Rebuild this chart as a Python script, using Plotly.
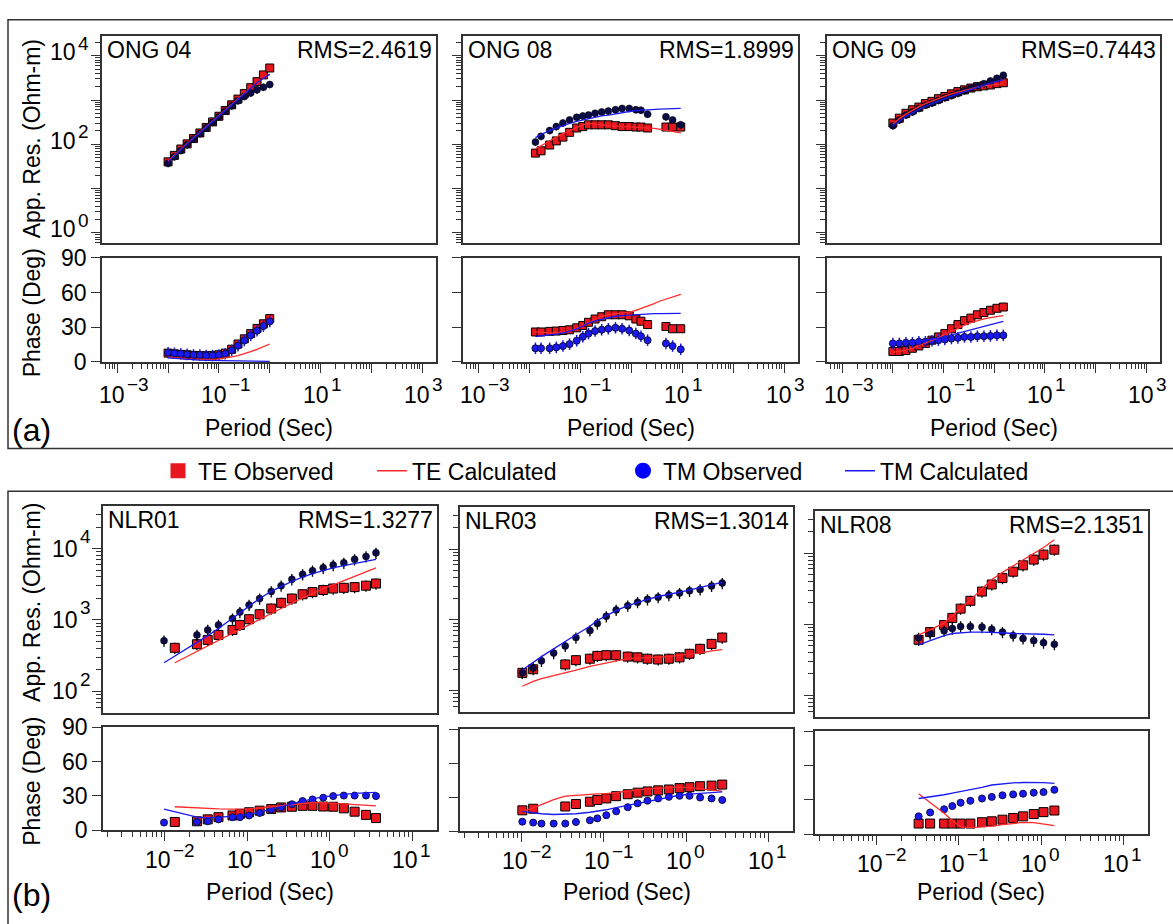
import math
import plotly.graph_objects as go

# ---------------- DATA ----------------
# ONG 04
ong04_T = [0.01, 0.0133, 0.0178, 0.0237, 0.0316, 0.0422, 0.0562, 0.075, 0.1, 0.133, 0.178, 0.237, 0.316, 0.422, 0.562, 0.75, 1.0]
ong04_te_rho = [40, 56, 78, 102, 135, 180, 240, 320, 430, 580, 780, 1050, 1400, 1900, 2600, 3700, 5300]
ong04_tm_rho = [37, 52, 72, 98, 132, 175, 235, 315, 420, 560, 740, 960, 1200, 1450, 1700, 1950, 2250]
ong04_te_rho_calc = [42, 57, 78, 104, 140, 186, 250, 335, 450, 600, 800, 1070, 1420, 1900, 2500, 3150, 3800]
ong04_tm_rho_calc = [40, 55, 76, 102, 137, 183, 245, 330, 440, 590, 790, 1050, 1400, 1850, 2450, 3100, 3800]
ong04_te_phi = [7.6, 7.0, 6.5, 6.2, 5.6, 5.4, 5.4, 5.6, 6.2, 7.6, 11.0, 15.5, 20.0, 24.5, 29.0, 33.0, 37.5]
ong04_tm_phi = [8.0, 7.5, 7.0, 6.5, 6.0, 6.0, 5.5, 5.5, 6.0, 7.0, 10.0, 14.0, 18.5, 23.0, 27.0, 31.0, 35.0]
ong04_te_phi_calc = [4.2, 3.5, 3.0, 2.5, 2.2, 2.0, 2.0, 2.2, 2.6, 3.3, 4.3, 5.5, 7.0, 8.8, 10.8, 13.0, 15.5]
ong04_tm_phi_calc = [3.5, 3.0, 2.5, 2.0, 1.8, 1.5, 1.3, 1.2, 1.1, 1.0, 1.0, 0.9, 0.8, 0.7, 0.6, 0.5, 0.5]

# ONG 08
ong08_T = [0.0132, 0.0170, 0.0251, 0.0339, 0.0457, 0.0617, 0.0851, 0.112, 0.145, 0.195, 0.263, 0.355, 0.490, 0.661, 0.912, 1.23, 1.55, 2.09, 4.79, 6.46, 9.33]
ong08_T_calc = [0.0132, 0.0170, 0.0251, 0.0339, 0.0457, 0.0617, 0.0851, 0.112, 0.145, 0.195, 0.263, 0.355, 0.490, 0.661, 0.912, 1.23, 1.55, 2.09, 2.82, 3.55, 4.79, 6.46, 9.33]
ong08_te_rho = [63, 71, 96, 119, 145, 186, 233, 251, 275, 275, 275, 275, 263, 251, 251, 245, 245, 233, 245, 245, 245]
ong08_tm_rho = [112, 151, 204, 251, 302, 355, 407, 436, 457, 501, 537, 562, 603, 646, 646, 603, 589, 479, 417, 355, 275]
ong08_te_rho_calc = [78, 93, 120, 145, 174, 200, 240, 275, 295, 288, 275, 263, 257, 251, 251, 245, 240, 234, 229, 219, 209, 195, 182]
ong08_tm_rho_calc = [141, 166, 204, 234, 263, 295, 331, 355, 380, 407, 436, 457, 490, 525, 550, 575, 589, 603, 617, 624, 631, 638, 646]
ong08_te_phi = [25.9, 25.9, 26.4, 26.7, 27.2, 27.8, 29.5, 31.5, 34.3, 37.1, 39.1, 40.8, 40.8, 40.8, 39.9, 37.1, 35.2, 32.3, 30.6, 28.7, 28.7]
ong08_tm_phi = [11.8, 11.8, 11.8, 12.6, 13.7, 15.4, 18.3, 21.7, 24.5, 26.7, 27.8, 28.7, 29.5, 28.7, 27.2, 24.5, 22.2, 18.8, 16.0, 13.7, 10.9]
ong08_te_phi_calc = [26, 25.5, 25, 25, 25.5, 27, 29, 31.5, 34, 37, 39.5, 41, 41.5, 42, 43, 44.5, 46, 48, 50.5, 52.5, 54.5, 56.5, 58.5]
ong08_tm_phi_calc = [22, 22.5, 23, 24, 25, 26.5, 28.5, 31, 33.5, 35.5, 37, 38.5, 39.5, 40, 40.5, 41, 41.2, 41.5, 41.7, 41.8, 42, 42, 42]

# ONG 09
ong09_T = [0.0100, 0.0134, 0.0181, 0.0243, 0.0326, 0.0438, 0.0589, 0.0791, 0.106, 0.143, 0.192, 0.258, 0.346, 0.465, 0.625, 0.839, 1.13, 1.51]
ong09_te_rho = [302, 389, 501, 603, 692, 832, 933, 1072, 1202, 1380, 1549, 1698, 1862, 1995, 2089, 2188, 2344, 2455]
ong09_tm_rho = [263, 355, 457, 537, 646, 759, 851, 977, 1122, 1259, 1413, 1622, 1862, 2089, 2344, 2692, 3090, 3631]
ong09_te_rho_calc = [288, 380, 479, 589, 708, 832, 955, 1096, 1230, 1380, 1514, 1660, 1820, 1950, 2089, 2188, 2291, 2344]
ong09_tm_rho_calc = [263, 339, 427, 513, 617, 724, 832, 955, 1096, 1230, 1380, 1549, 1738, 1950, 2138, 2399, 2630, 2884]
ong09_te_phi = [9.0, 9.0, 9.8, 11.8, 13.8, 16.0, 18.8, 21.6, 24.5, 28.7, 32.3, 35.7, 37.9, 40.8, 42.7, 44.7, 46.4, 47.5]
ong09_tm_phi = [16.0, 16.0, 16.6, 16.6, 17.4, 17.4, 18.3, 18.8, 19.4, 20.2, 20.8, 21.6, 21.6, 22.2, 22.2, 22.5, 23.0, 23.0]
ong09_te_phi_calc = [8.2, 9.0, 10.2, 11.8, 13.8, 16.0, 18.5, 21.0, 23.8, 26.5, 29.2, 31.8, 34.0, 35.8, 37.2, 38.4, 39.3, 40.0]
ong09_tm_phi_calc = [17.4, 17.4, 17.6, 17.8, 18.2, 18.8, 19.6, 20.6, 21.8, 23.2, 24.7, 26.2, 27.8, 29.3, 30.8, 32.3, 33.7, 35.1]

# NLR01
nlr01_T_tm = [0.00977, 0.0245, 0.0331, 0.0447, 0.0661, 0.0813, 0.105, 0.141, 0.195, 0.257, 0.347, 0.468, 0.617, 0.832, 1.10, 1.48, 2.00, 2.75, 3.63]
nlr01_T_te = [0.0132, 0.0245, 0.0331, 0.0447, 0.0661, 0.0813, 0.105, 0.141, 0.195, 0.257, 0.347, 0.468, 0.617, 0.832, 1.10, 1.48, 2.00, 2.75, 3.63]
nlr01_tm_rho = [513, 617, 724, 851, 1047, 1288, 1622, 1995, 2512, 3020, 3715, 4365, 4898, 5370, 5888, 6310, 7079, 7762, 8710]
nlr01_te_rho = [407, 457, 525, 617, 724, 851, 1023, 1202, 1445, 1738, 1995, 2291, 2455, 2630, 2754, 2818, 2884, 3020, 3236]
nlr01_tm_rho_calc = [251, 479, 603, 759, 1047, 1259, 1549, 1995, 2512, 2951, 3467, 3981, 4467, 4898, 5370, 5754, 6166, 6607, 7079]
nlr01_te_rho_calc = [251, 363, 437, 525, 661, 741, 851, 1023, 1230, 1445, 1738, 2042, 2344, 2754, 3090, 3548, 4074, 4677, 5370]
nlr01_tm_phi = [6.8, 7.3, 7.9, 9.6, 11.5, 11.5, 13.0, 15.2, 18.0, 20.0, 22.8, 25.6, 27.0, 28.5, 29.9, 30.4, 30.4, 30.4, 29.9]
nlr01_te_phi = [7.3, 7.9, 9.6, 11.5, 13.0, 14.4, 15.8, 17.2, 18.6, 20.0, 20.6, 21.4, 21.4, 20.8, 20.6, 19.2, 16.3, 13.5, 10.7]
nlr01_tm_phi_calc = [18.6, 11.5, 11.0, 11.3, 12.5, 13.0, 14.0, 16.0, 18.5, 21.0, 23.5, 25.6, 27.5, 29.2, 30.4, 31.5, 32.3, 32.9, 33.2]
nlr01_te_phi_calc = [20.6, 19.5, 19.0, 18.8, 18.6, 18.6, 18.8, 19.5, 20.6, 21.7, 22.8, 23.8, 24.3, 24.2, 23.7, 23.0, 22.3, 21.8, 21.4]

# NLR03
nlr03_T_tm = [0.0102, 0.0138, 0.0174, 0.0245, 0.0339, 0.0457, 0.0676, 0.0832, 0.107, 0.141, 0.195, 0.257, 0.339, 0.457, 0.617, 0.832, 1.10, 1.48, 2.04, 2.75]
nlr03_T_te = [0.0102, 0.0138, 0.0339, 0.0457, 0.0676, 0.0832, 0.107, 0.141, 0.195, 0.257, 0.339, 0.457, 0.617, 0.832, 1.10, 1.48, 2.04, 2.75]
nlr03_tm_rho = [178, 209, 263, 339, 427, 562, 708, 891, 1122, 1380, 1585, 1778, 1950, 2089, 2239, 2399, 2570, 2692, 3020, 3311]
nlr03_te_rho = [178, 200, 234, 269, 282, 309, 316, 316, 302, 295, 282, 275, 282, 295, 331, 389, 457, 562]
nlr03_tm_rho_calc = [195, 251, 302, 389, 501, 617, 813, 977, 1148, 1349, 1585, 1778, 1950, 2138, 2291, 2455, 2630, 2884, 3162, 3388]
nlr03_te_rho_calc = [115, 135, 148, 162, 178, 195, 219, 229, 245, 263, 282, 288, 292, 295, 302, 316, 324, 339, 363, 380]
nlr03_tm_phi = [8.5, 7.7, 6.8, 6.8, 6.8, 8.2, 9.7, 11.4, 14.2, 17.6, 21.3, 24.7, 27.0, 29.0, 30.4, 31.3, 31.3, 29.8, 29.0, 27.6]
nlr03_te_phi = [18.5, 19.9, 21.9, 24.1, 26.1, 27.6, 29.0, 31.0, 32.7, 34.1, 35.2, 36.1, 36.9, 38.1, 38.9, 39.8, 40.3, 41.2]
nlr03_te_phi_calc = [17.6, 20.5, 23.5, 28.0, 31.0, 31.8, 32.5, 33.0, 33.3, 34.3, 35.5, 36.6, 37.5, 38.0, 38.5, 38.9, 38.5, 37.5, 36.5, 35.5]
nlr03_tm_phi_calc = [17.6, 16.3, 15.5, 14.8, 15.0, 15.5, 16.8, 17.6, 19.0, 20.8, 22.8, 24.7, 26.5, 28.5, 30.3, 31.8, 32.8, 33.6, 34.2, 34.7]

# NLR08
nlr08_T = [0.0324, 0.0447, 0.0661, 0.0832, 0.105, 0.138, 0.191, 0.251, 0.339, 0.457, 0.603, 0.813, 1.07, 1.45]
nlr08_te_rho = [603, 776, 977, 1230, 1660, 2138, 2884, 3631, 4467, 5495, 6761, 8128, 9550, 11220]
nlr08_tm_rho = [646, 741, 813, 871, 933, 933, 912, 851, 776, 692, 631, 589, 550, 525]
nlr08_te_rho_calc = [708, 832, 1047, 1318, 1660, 2188, 3162, 4266, 5370, 6607, 7943, 9772, 12023, 15488]
nlr08_tm_rho_calc = [513, 589, 692, 741, 759, 776, 776, 776, 759, 741, 741, 724, 724, 708]
nlr08_tm_phi = [15.6, 19.0, 21.8, 24.6, 27.5, 29.2, 31.2, 32.6, 34.0, 34.8, 35.4, 36.3, 36.8, 38.8]
nlr08_te_phi = [9.3, 9.3, 9.3, 9.3, 9.3, 9.3, 10.5, 11.3, 12.7, 14.2, 15.6, 17.6, 19.3, 20.7]
nlr08_te_phi_calc = [35.4, 28.0, 18.4, 12.0, 6.5, 5.7, 6.2, 7.1, 8.3, 9.5, 10.3, 10.2, 9.0, 7.6]
nlr08_tm_phi_calc = [31.2, 32.5, 34.5, 36.0, 37.3, 39.0, 41.0, 43.0, 44.0, 44.8, 45.2, 45.3, 45.0, 44.5]

site_names = ["ONG 04", "ONG 08", "ONG 09", "NLR01", "NLR03", "NLR08"]
rms_labels = ["RMS=2.4619", "RMS=1.8999", "RMS=0.7443", "RMS=1.3277", "RMS=1.3014", "RMS=2.1351"]

# tick label exponents (None = tick without label)
x_exp = {"a": [-3, None, -1, None, 1, None, 3], "b": [-2, -1, 0, 1]}
y_exp = {"a": [0, None, 2, None, 4], "b": [2, 3, 4]}

# ---------------- STYLE / LAYOUT ----------------
W, H = 1173, 924
FONT = "Liberation Sans, Arial, Helvetica, sans-serif"
RED = "#e8161e"
LRED = "#ff2a2a"
BLUE = "#1a1af0"
NAVY = "#0b0b45"
FRAME = "#333333"


def fx(p):
    return p / W


def fy(p):
    return 1 - p / H


def exp_text(e):
    return ("\u2212" if e < 0 else "") + str(abs(e))


sites = [
    dict(T_te=ong04_T, T_tm=ong04_T, T_te_c=ong04_T, T_tm_c=ong04_T,
         te_rho=ong04_te_rho, tm_rho=ong04_tm_rho, te_rho_c=ong04_te_rho_calc, tm_rho_c=ong04_tm_rho_calc,
         te_phi=ong04_te_phi, tm_phi=ong04_tm_phi, te_phi_c=ong04_te_phi_calc, tm_phi_c=ong04_tm_phi_calc),
    dict(T_te=ong08_T, T_tm=ong08_T, T_te_c=ong08_T_calc, T_tm_c=ong08_T_calc,
         te_rho=ong08_te_rho, tm_rho=ong08_tm_rho, te_rho_c=ong08_te_rho_calc, tm_rho_c=ong08_tm_rho_calc,
         te_phi=ong08_te_phi, tm_phi=ong08_tm_phi, te_phi_c=ong08_te_phi_calc, tm_phi_c=ong08_tm_phi_calc),
    dict(T_te=ong09_T, T_tm=ong09_T, T_te_c=ong09_T, T_tm_c=ong09_T,
         te_rho=ong09_te_rho, tm_rho=ong09_tm_rho, te_rho_c=ong09_te_rho_calc, tm_rho_c=ong09_tm_rho_calc,
         te_phi=ong09_te_phi, tm_phi=ong09_tm_phi, te_phi_c=ong09_te_phi_calc, tm_phi_c=ong09_tm_phi_calc),
    dict(T_te=nlr01_T_te, T_tm=nlr01_T_tm, T_te_c=nlr01_T_te, T_tm_c=nlr01_T_tm,
         te_rho=nlr01_te_rho, tm_rho=nlr01_tm_rho, te_rho_c=nlr01_te_rho_calc, tm_rho_c=nlr01_tm_rho_calc,
         te_phi=nlr01_te_phi, tm_phi=nlr01_tm_phi, te_phi_c=nlr01_te_phi_calc, tm_phi_c=nlr01_tm_phi_calc),
    dict(T_te=nlr03_T_te, T_tm=nlr03_T_tm, T_te_c=nlr03_T_tm, T_tm_c=nlr03_T_tm,
         te_rho=nlr03_te_rho, tm_rho=nlr03_tm_rho, te_rho_c=nlr03_te_rho_calc, tm_rho_c=nlr03_tm_rho_calc,
         te_phi=nlr03_te_phi, tm_phi=nlr03_tm_phi, te_phi_c=nlr03_te_phi_calc, tm_phi_c=nlr03_tm_phi_calc),
    dict(T_te=nlr08_T, T_tm=nlr08_T, T_te_c=nlr08_T, T_tm_c=nlr08_T,
         te_rho=nlr08_te_rho, tm_rho=nlr08_tm_rho, te_rho_c=nlr08_te_rho_calc, tm_rho_c=nlr08_tm_rho_calc,
         te_phi=nlr08_te_phi, tm_phi=nlr08_tm_phi, te_phi_c=nlr08_te_phi_calc, tm_phi_c=nlr08_tm_phi_calc),
]

# panel boxes in pixels: x0, x1, res_top, res_bottom, phase_top, phase_bottom, group
geom = [
    (102, 436, 24, 237, 252, 359, "a"),
    (463, 798, 24, 237, 252, 359, "a"),
    (827, 1160, 24, 237, 252, 359, "a"),
    (103, 437, 507, 720, 735, 841, "b"),
    (460, 793, 508, 719, 737, 842, "b"),
    (815, 1148, 512, 724, 739, 845, "b"),
]

XR = {"a": [-3.3, 3.27], "b": [-2.75, 1.3]}
YR = {"a": [-0.24, 4.44], "b": [1.7, 4.6]}
XLO = {"a": -3, "b": -2}
YLO = {"a": 0, "b": 2}
ALL_LOG_TICKS = [k * 10.0 ** e for e in range(-5, 6) for k in range(1, 10)]
TXT = dict(family=FONT, size=23, color="black")
TICKTXT = dict(family=FONT, size=23, color="black")
EXPTXT = dict(family=FONT, size=19, color="black")

# label offsets (pixels) for the two groups
XLAB = {"a": dict(dy=34, base_dx=-5, exp_dx=8, exp_dy=10),
        "b": dict(dy=31, base_dx=-7, exp_dx=6, exp_dy=10)}
YLAB = {"a": dict(base_r=78, exp_r=91, base_dy=3.5, exp_dy=9),
        "b": dict(base_r=80, exp_r=93, base_dy=0, exp_dy=12)}

fig = go.Figure()
layout = {}
annotations = []

for i, (s, g) in enumerate(zip(sites, geom)):
    x0, x1, rt, rb, pt, pb, grp = g
    first = i % 3 == 0
    nr = 2 * i + 1
    npz = 2 * i + 2
    nmx = 13 + 2 * i      # overlay axis carrying the long decade ticks (phase x)
    nmy = 14 + 2 * i      # overlay axis carrying the long decade ticks (resistivity y)
    xr_id = "x" if nr == 1 else f"x{nr}"
    yr_id = "y" if nr == 1 else f"y{nr}"
    xp_id = f"x{npz}"
    yp_id = f"y{npz}"
    msq = 8 if grp == "a" else 9
    mci = 7

    # ---- resistivity ----
    fig.add_trace(go.Scatter(x=s["T_te"], y=s["te_rho"], mode="markers", xaxis=xr_id, yaxis=yr_id,
                             marker=dict(symbol="square", size=msq, color=RED, line=dict(color="black", width=1)),
                             error_y=dict(type="percent", value=18, color="black", thickness=1.3, width=0),
                             showlegend=False))
    fig.add_trace(go.Scatter(x=s["T_tm"], y=s["tm_rho"], mode="markers", xaxis=xr_id, yaxis=yr_id,
                             marker=dict(symbol="circle", size=mci, color=NAVY, line=dict(color="black", width=0.5)),
                             error_y=dict(type="percent", value=18, color="black", thickness=1.3, width=0),
                             showlegend=False))
    fig.add_trace(go.Scatter(x=s["T_te_c"], y=s["te_rho_c"], mode="lines", xaxis=xr_id, yaxis=yr_id,
                             line=dict(color=LRED, width=1.3), showlegend=False))
    fig.add_trace(go.Scatter(x=s["T_tm_c"], y=s["tm_rho_c"], mode="lines", xaxis=xr_id, yaxis=yr_id,
                             line=dict(color=BLUE, width=1.3), showlegend=False))

    # ---- phase ----
    fig.add_trace(go.Scatter(x=s["T_te"], y=s["te_phi"], mode="markers", xaxis=xp_id, yaxis=yp_id,
                             marker=dict(symbol="square", size=msq, color=RED, line=dict(color="black", width=1)),
                             error_y=dict(type="constant", value=3, color="black", thickness=1.3, width=0),
                             showlegend=False))
    fig.add_trace(go.Scatter(x=s["T_tm"], y=s["tm_phi"], mode="markers", xaxis=xp_id, yaxis=yp_id,
                             marker=dict(symbol="circle", size=mci, color=BLUE, line=dict(color=NAVY, width=1)),
                             error_y=dict(type="constant", value=5 if grp == "a" else 2.5,
                                          color=BLUE if grp == "a" else NAVY, thickness=1.5, width=0),
                             showlegend=False))
    fig.add_trace(go.Scatter(x=s["T_te_c"], y=s["te_phi_c"], mode="lines", xaxis=xp_id, yaxis=yp_id,
                             line=dict(color=LRED, width=1.3), showlegend=False))
    fig.add_trace(go.Scatter(x=s["T_tm_c"], y=s["tm_phi_c"], mode="lines", xaxis=xp_id, yaxis=yp_id,
                             line=dict(color=BLUE, width=1.3), showlegend=False))

    # traces on the overlay axes (one hidden point each) so those axes are drawn
    fig.add_trace(go.Scatter(x=[s["T_te"][0]], y=[s["te_phi"][0]], xaxis=f"x{nmx}", yaxis=yp_id,
                             mode="markers", marker=dict(size=1, opacity=0), showlegend=False, hoverinfo="skip"))
    fig.add_trace(go.Scatter(x=[s["T_te"][0]], y=[s["te_rho"][0]], xaxis=xr_id, yaxis=f"y{nmy}",
                             mode="markers", marker=dict(size=1, opacity=0), showlegend=False, hoverinfo="skip"))

    dom_x = [fx(x0), fx(x1)]
    xdec = [10.0 ** (XLO[grp] + k) for k in range(len(x_exp[grp]))]
    ydec = [10.0 ** (YLO[grp] + k) for k in range(len(y_exp[grp]))]
    kx = "xaxis" if nr == 1 else f"xaxis{nr}"
    ky = "yaxis" if nr == 1 else f"yaxis{nr}"
    box = dict(showline=True, mirror=True, linecolor=FRAME, linewidth=1.5, showgrid=False, zeroline=False)
    layout[kx] = dict(domain=dom_x, anchor=yr_id, type="log", range=XR[grp], showticklabels=False,
                      ticks="", **box)
    # short ticks at every 1..9 x decade
    layout[ky] = dict(domain=[fy(rb), fy(rt)], anchor=xr_id, type="log", range=YR[grp],
                      tickmode="array", tickvals=ALL_LOG_TICKS, showticklabels=False,
                      ticks="outside", ticklen=5, tickwidth=1, tickcolor=FRAME, **box)
    # long ticks at decades
    layout[f"yaxis{nmy}"] = dict(domain=[fy(rb), fy(rt)], anchor=xr_id, overlaying=yr_id, side="left",
                                 type="log", range=YR[grp], tickmode="array", tickvals=ydec,
                                 showticklabels=False, ticks="outside", ticklen=10, tickwidth=1.3,
                                 tickcolor=FRAME, showline=False, showgrid=False, zeroline=False)
    layout[f"xaxis{npz}"] = dict(domain=dom_x, anchor=yp_id, type="log", range=XR[grp],
                                 tickmode="array", tickvals=ALL_LOG_TICKS, showticklabels=False,
                                 ticks="outside", ticklen=5, tickwidth=1, tickcolor=FRAME, **box)
    layout[f"xaxis{nmx}"] = dict(domain=dom_x, anchor=yp_id, overlaying=xp_id, side="bottom",
                                 type="log", range=XR[grp], tickmode="array", tickvals=xdec,
                                 showticklabels=False, ticks="outside", ticklen=10, tickwidth=1.3,
                                 tickcolor=FRAME, showline=False, showgrid=False, zeroline=False)
    layout[f"yaxis{npz}"] = dict(domain=[fy(pb), fy(pt)], anchor=xp_id, range=[0, 90],
                                 tickmode="array", tickvals=[0, 30, 60, 90],
                                 ticktext=["0", "30", "60", "90"], showticklabels=first,
                                 ticks="outside", ticklen=9, tickwidth=1.2, tickcolor=FRAME,
                                 tickfont=TICKTXT, **box)

    # x tick labels: "10" plus a raised exponent, both placed on the axis scale
    xl = XLAB[grp]
    for v, e in zip(xdec, x_exp[grp]):
        if e is None:
            continue
        lv = math.log10(v)
        annotations.append(dict(text="10", x=lv, y=fy(pb + xl["dy"]), xref=xp_id, yref="paper",
                                xanchor="center", yanchor="middle", xshift=xl["base_dx"],
                                showarrow=False, font=TICKTXT))
        annotations.append(dict(text=exp_text(e), x=lv, y=fy(pb + xl["dy"]), xref=xp_id, yref="paper",
                                xanchor="left", yanchor="middle", xshift=xl["exp_dx"], yshift=xl["exp_dy"],
                                showarrow=False, font=EXPTXT))
    # y tick labels on the resistivity axis (first column only)
    if first:
        yl = YLAB[grp]
        for v, e in zip(ydec, y_exp[grp]):
            if e is None:
                continue
            lv = math.log10(v)
            annotations.append(dict(text="10", x=fx(yl["base_r"]), y=lv, xref="paper", yref=yr_id,
                                    xanchor="right", yanchor="middle", yshift=yl["base_dy"],
                                    showarrow=False, font=TICKTXT))
            annotations.append(dict(text=exp_text(e), x=fx(yl["exp_r"]), y=lv, xref="paper", yref=yr_id,
                                    xanchor="right", yanchor="middle", yshift=yl["base_dy"] + yl["exp_dy"],
                                    showarrow=False, font=EXPTXT))

    off = 14 if grp == "a" else 15
    annotations.append(dict(text=site_names[i], x=fx(x0 + 3), y=fy(rt + off), xref="paper", yref="paper",
                            xanchor="left", yanchor="middle", showarrow=False, font=TXT))
    annotations.append(dict(text=rms_labels[i], x=fx(x1 - 2), y=fy(rt + off), xref="paper", yref="paper",
                            xanchor="right", yanchor="middle", showarrow=False, font=TXT))
    annotations.append(dict(text="Period (Sec)", x=fx((x0 + x1) / 2), y=fy(427 if grp == "a" else 904),
                            xref="paper", yref="paper", xanchor="center", yanchor="middle", showarrow=False,
                            font=TXT))

# y-axis titles and group labels
for txt, yc in [("App. Res. (Ohm-m)", 130), ("Phase (Deg)", 309), ("App. Res. (Ohm-m)", 607), ("Phase (Deg)", 791)]:
    annotations.append(dict(text=txt, x=fx(32), y=fy(yc), xref="paper", yref="paper", textangle=-90,
                            xanchor="center", yanchor="middle", showarrow=False, font=TXT))
for txt, yc in [("(a)", 429), ("(b)", 908)]:
    annotations.append(dict(text=txt, x=fx(31), y=fy(yc), xref="paper", yref="paper",
                            xanchor="center", yanchor="middle", showarrow=False,
                            font=dict(family=FONT, size=32, color="black")))

# group frames
shapes = [
    dict(type="rect", xref="paper", yref="paper", x0=fx(8), x1=fx(1200), y0=fy(7), y1=fy(448),
         line=dict(color=FRAME, width=1.5), fillcolor="rgba(0,0,0,0)", layer="below"),
    dict(type="rect", xref="paper", yref="paper", x0=fx(8), x1=fx(1200), y0=fy(492), y1=fy(960),
         line=dict(color=FRAME, width=1.5), fillcolor="rgba(0,0,0,0)", layer="below"),
]

# legend entries (each in its own legend box so they can be placed like the figure)
leg_items = [
    ("TE Observed", dict(mode="markers", marker=dict(symbol="square", size=15, color=RED)), 158, "legend"),
    ("TE Calculated", dict(mode="lines", line=dict(color=LRED, width=1.5)), 372, "legend2"),
    ("TM Observed", dict(mode="markers", marker=dict(symbol="circle", size=16, color="#0000ff")), 623, "legend3"),
    ("TM Calculated", dict(mode="lines", line=dict(color=BLUE, width=1.5)), 840, "legend4"),
]
for name, style, xpx, lg in leg_items:
    fig.add_trace(go.Scatter(x=[None], y=[None], name=name, showlegend=True, legend=lg,
                             xaxis="x", yaxis="y", **style))
    layout[lg] = dict(x=fx(xpx), y=fy(471), xanchor="left", yanchor="middle", orientation="h",
                      bgcolor="rgba(0,0,0,0)", borderwidth=0, font=TXT)

fig.update_layout(
    width=W, height=H, autosize=False,
    margin=dict(l=0, r=0, t=0, b=0),
    paper_bgcolor="white", plot_bgcolor="white",
    font=dict(family=FONT, color="black"),
    annotations=annotations, shapes=shapes,
    **layout,
)

fig.write_html("out.html")
